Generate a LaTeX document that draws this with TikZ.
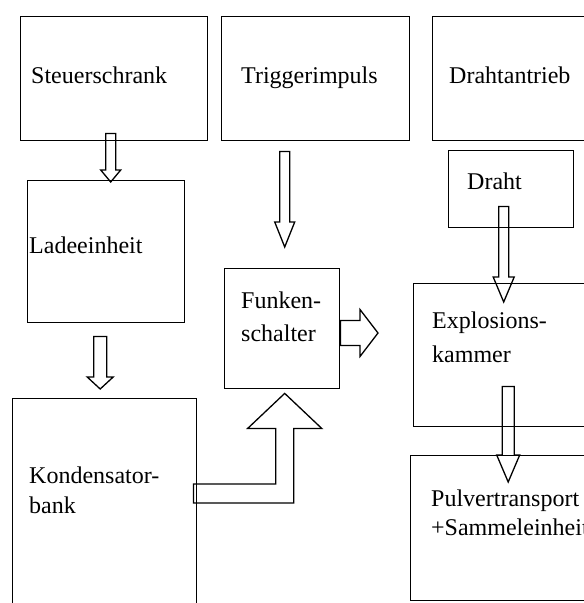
\documentclass[tikz,border=0pt]{standalone}
\usepackage{fontspec}
\setmainfont{Liberation Serif}
\usepackage{tikz}
\usetikzlibrary{calc, positioning}

% hollow block arrows: start, tip, shaft half width, head half width, head length
\newcommand{\downblock}[5]{%
  \draw[blk] ($(#1)+(-#3,0)$) -- ($(#2)+(-#3,-#5)$) -- ($(#2)+(-#4,-#5)$) -- (#2)
    -- ($(#2)+(#4,-#5)$) -- ($(#2)+(#3,-#5)$) -- ($(#1)+(#3,0)$) -- cycle;}
\newcommand{\rightblock}[5]{%
  \draw[blk] ($(#1)+(0,-#3)$) -- ($(#2)+(-#5,-#3)$) -- ($(#2)+(-#5,-#4)$) -- (#2)
    -- ($(#2)+(-#5,#4)$) -- ($(#2)+(-#5,#3)$) -- ($(#1)+(0,#3)$) -- cycle;}

\begin{document}
\begin{tikzpicture}[x=1pt,y=-1pt,
  box/.style={draw,line width=1.4pt,inner sep=0pt,anchor=north west},
  lbl/.style={inner sep=0pt,anchor=base west,align=left,font=\fontsize{24}{31}\selectfont},
  blk/.style={draw,line width=1.3pt,line join=miter}]
\useasboundingbox (0,0) rectangle (584,603);
\clip (0,0) rectangle (584,603);

% boxes
\node[box,minimum width=187pt,minimum height=124pt] (steuer) at (20,16) {};
\node[box,minimum width=188pt,minimum height=124pt] (trigger) at (221,16) {};
\node[box,minimum width=180pt,minimum height=124pt] (antrieb) at (432,16) {};
\node[box,minimum width=125pt,minimum height=77pt] (draht) at (448,150) {};
\node[box,minimum width=157pt,minimum height=142pt] (lade) at (27,180) {};
\node[box,minimum width=115pt,minimum height=120pt] (funken) at (224,268) {};
\node[box,minimum width=184pt,minimum height=260pt] (kond) at (12,398) {};
\node[box,minimum width=200pt,minimum height=143pt] (expl) at (413,283) {};
\node[box,minimum width=202pt,minimum height=145pt] (pulver) at (410,455) {};

% labels (multi-line ones sit on their last baseline)
\node[lbl] (steuer-t) at (31,83) {Steuerschrank};
\node[lbl] (trigger-t) at (241,83) {Triggerimpuls};
\node[lbl] (antrieb-t) at (449,83) {Drahtantrieb};
\node[lbl] (draht-t) at (467,189) {Draht};
\node[lbl] (lade-t) at (29,253) {Ladeeinheit};
\node[lbl] (funken-t) at (241,341) {Funken-\\[2pt]schalter};
\node[lbl] (kond-t) at (29,513) {Kondensator-\\[-1pt]bank};
\node[lbl] (expl-t) at (432,362) {Explosions-\\[3pt]kammer};
\node[lbl] (pulver-t) at (431,535) {Pulvertransport\\[-2pt]+Sammeleinheit};

% arrows
\coordinate (a1) at ([xshift=-3.5pt,yshift=8pt]steuer.south);
\coordinate (a1tip) at ($(a1 |- lade.north)+(0,2)$);
\downblock{a1}{a1tip}{5}{10}{12}

\coordinate (a2) at ([xshift=-31pt,yshift=-10pt]trigger.south);
\coordinate (a2tip) at ($(a2 |- funken.north)+(0,-21)$);
\downblock{a2}{a2tip}{5}{10}{25}

\coordinate (a3) at ([xshift=-6pt,yshift=-13pt]lade.south);
\coordinate (a3tip) at ($(a3 |- kond.north)+(0,-9)$);
\downblock{a3}{a3tip}{6.5}{13}{12}

\coordinate (a4) at ([xshift=-7.5pt,yshift=22pt]draht.south);
\coordinate (a4tip) at ($(a4 |- expl.north)+(0,19)$);
\downblock{a4}{a4tip}{5}{10.5}{25}

\coordinate (a5) at ([xshift=-5.5pt,yshift=41pt]expl.south);
\coordinate (a5tip) at ($(a5 |- pulver.north)+(0,27)$);
\downblock{a5}{a5tip}{6}{11.5}{27}

\coordinate (a6) at ($(funken.north east)+(0,65)$);
\coordinate (a6tip) at ($(a6 -| expl.west)+(-35,0)$);
\rightblock{a6}{a6tip}{12.5}{23.5}{18}

\coordinate (b0) at ($(kond.north east)+(-4,95.5)$);
\coordinate (b1) at ($(funken.south)+(2.5,4)$);
\draw[blk] ($(b0)+(0,-9.5)$) -- ($(b1 |- b0)+(-9,-9.5)$) -- ($(b1)+(-9,35)$)
  -- ($(b1)+(-37,35)$) -- (b1) -- ($(b1)+(37,35)$) -- ($(b1)+(9,35)$)
  -- ($(b1 |- b0)+(9,9.5)$) -- ($(b0)+(0,9.5)$) -- cycle;
\end{tikzpicture}
\end{document}
